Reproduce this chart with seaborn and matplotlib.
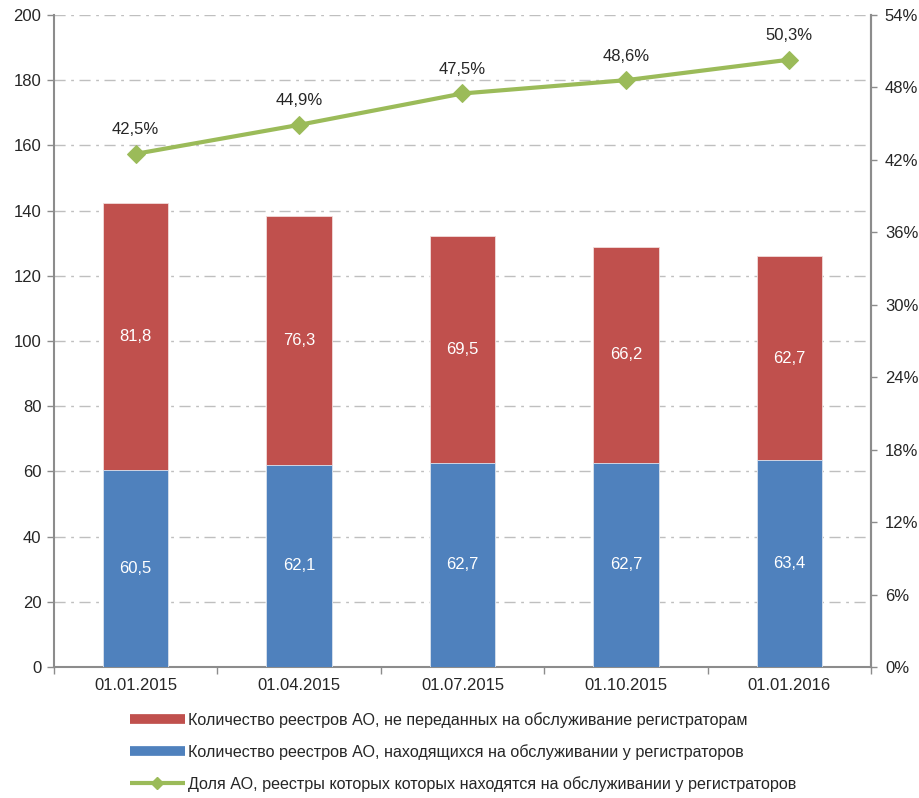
import matplotlib
matplotlib.use("Agg")
import matplotlib.pyplot as plt
import seaborn as sns
import pandas as pd
from matplotlib.lines import Line2D

dates = ["01.01.2015", "01.04.2015", "01.07.2015", "01.10.2015", "01.01.2016"]
serviced = [60.5, 62.1, 62.7, 62.7, 63.4]
not_transferred = [81.8, 76.3, 69.5, 66.2, 62.7]
share = [42.5, 44.9, 47.5, 48.6, 50.3]

name_red = "Количество реестров АО, не переданных на обслуживание регистраторам"
name_blue = "Количество реестров АО, находящихся на обслуживании у регистраторов"
name_green = "Доля АО, реестры которых которых находятся на обслуживании у регистраторов"

RED = "#C0504D"
BLUE = "#4F81BD"
GREEN = "#9BBB59"
GRAY = "#8C8C8C"
FS = 12

sns.set_style("white")
plt.rcParams["font.family"] = ["Liberation Sans", "DejaVu Sans"]

df = pd.DataFrame({"date": dates, "serviced": serviced, "not_transferred": not_transferred,
                   "share": share})
df["total"] = df["serviced"] + df["not_transferred"]

fig = plt.figure(figsize=(9.2, 7.98), dpi=100)
ax = fig.add_axes([54 / 920, 1 - 667 / 798, (871 - 54) / 920, (667 - 15) / 798])

sns.barplot(data=df, x="date", y="total", color=RED, width=0.4, saturation=1,
            edgecolor="#F2DCDB", linewidth=0.6, ax=ax, zorder=2)
sns.barplot(data=df, x="date", y="serviced", color=BLUE, width=0.4, saturation=1,
            edgecolor="#DCE6F2", linewidth=0.6, ax=ax, zorder=3)

for i, (b, r) in enumerate(zip(serviced, not_transferred)):
    ax.text(i, b / 2, f"{b:.1f}".replace(".", ","), ha="center", va="center",
            color="white", fontsize=FS, zorder=5)
    ax.text(i, b + r / 2, f"{r:.1f}".replace(".", ","), ha="center", va="center",
            color="white", fontsize=FS, zorder=5)

ax.set_ylim(0, 200)
ax.set_xlim(-0.5, 4.5)
ax.set_yticks(range(0, 201, 20))
ax.yaxis.grid(True, linestyle=(0, (8, 4, 2, 4)), color="#BFBFBF", linewidth=1)
ax.set_axisbelow(True)
ax.set_xlabel("")
ax.set_ylabel("")
ax.tick_params(axis="y", labelsize=FS, length=5, color=GRAY, width=1, left=True, pad=4)
ax.tick_params(axis="x", which="major", labelsize=FS, length=0, pad=8)
ax.set_xticks([-0.5, 0.5, 1.5, 2.5, 3.5, 4.5], minor=True)
ax.tick_params(axis="x", which="minor", length=5, color=GRAY, width=1, bottom=True)
for s in ["left", "bottom", "right"]:
    ax.spines[s].set_color(GRAY)
    ax.spines[s].set_linewidth(1.5)
ax.spines["top"].set_visible(False)

ax2 = ax.twinx()
sns.lineplot(x=list(range(len(share))), y=share, ax=ax2, color=GREEN, linewidth=3,
             marker="D", markersize=9, markeredgecolor=GREEN, zorder=6)
for i, v in enumerate(share):
    ax2.annotate(f"{v:.1f}%".replace(".", ","), (i, v), xytext=(0, 12),
                 textcoords="offset points", ha="center", va="bottom", fontsize=FS)
ax2.set_ylim(0, 54)
ax2.set_yticks(range(0, 55, 6))
ax2.set_yticklabels([f"{t}%" for t in range(0, 55, 6)])
ax2.tick_params(axis="y", labelsize=FS, length=4, color=GRAY, width=1, right=True, pad=6)
for s in ["left", "bottom", "top"]:
    ax2.spines[s].set_visible(False)
ax2.spines["right"].set_color(GRAY)
ax2.spines["right"].set_linewidth(1.5)
ax2.set_xlim(-0.5, 4.5)

fig.text(0.004, 0.55, "тыс. шт.", rotation=90, ha="right", va="center", fontsize=FS)

handles = [
    Line2D([0], [0], color=RED, linewidth=7, solid_capstyle="butt"),
    Line2D([0], [0], color=BLUE, linewidth=7, solid_capstyle="butt"),
    Line2D([0], [0], color=GREEN, linewidth=3, marker="D", markersize=6,
           solid_capstyle="butt"),
]
fig.legend(handles, [name_red, name_blue, name_green], loc="upper left",
           bbox_to_anchor=(130 / 920, 1 - 712 / 798), frameon=False, fontsize=11.6,
           handlelength=3.4, handletextpad=0.2, labelspacing=1.0, borderaxespad=0,
           borderpad=0)

fig.savefig("out.png", dpi=100)
